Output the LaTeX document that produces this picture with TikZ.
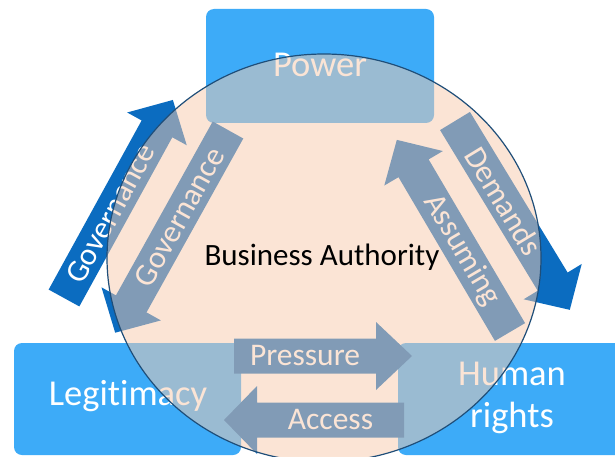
\documentclass[tikz,border=0pt]{standalone}
\usepackage{fontspec}
\setmainfont{Carlito}[Ligatures={NoCommon,NoContextual,NoRare}]
\usetikzlibrary{calc}
\definecolor{boxblue}{HTML}{3DABF8}
\definecolor{arrblue}{HTML}{0B6CC0}
\definecolor{peach}{HTML}{F8CBAD}
\definecolor{navy}{HTML}{1F4E79}
\tikzset{
  boxshape/.style={fill=boxblue, rounded corners=8pt},
  boxlabel/.style={text=white, font=\fontsize{36.5}{41}\selectfont, align=center, inner sep=0pt},
  arrtext/.style={text=white, font=\fontsize{31.5}{34}\selectfont, inner sep=0pt},
  arrfill/.style={fill=arrblue},
  bubble/.style={fill=peach, fill opacity=0.5, draw=navy, draw opacity=1, line width=1.2pt},
  centertext/.style={text=black, font=\fontsize{31}{35}\selectfont, inner sep=0pt}
}
\newcommand\BlkArrow[7]{%
  \begin{scope}[shift={(#2)}, rotate=#3]
    \fill[arrfill] (0,-17.5) -- (#4-#7,-17.5) -- (#4-#7,-34) -- (#4,0) -- (#4-#7,34) -- (#4-#7,17.5) -- (0,17.5) -- cycle;
    \node[arrtext, rotate=#5] (#1) at ({(#4-#7)/2},0) {#6};
  \end{scope}}
\begin{document}
\begin{tikzpicture}[x=1pt,y=1pt]
\useasboundingbox (0,0) rectangle (615,456);
\fill[white] (0,0) rectangle (615,456);
\clip (0,0) rectangle (615,456);
% boxes
\fill[boxshape] (206,333) rectangle (434,447);
\fill[boxshape] (14,1) rectangle (241,113);
\fill[boxshape] (398,1) rectangle (640,113);
\node[boxlabel, anchor=base] (power) at (320,379) {Power};
\node[boxlabel, anchor=base] (legit) at (128,51) {Legi\kern0pt timacy};
\node[boxlabel] (human) at (512,58) {Human\\[1pt]rights};
% arrows
\BlkArrow{govout}{64,158}{61.2}{226}{61.2}{Governance}{33}
\BlkArrow{govin}{228,326}{240.9}{232}{60.9}{Governance}{33}
\BlkArrow{dem}{455,335}{-58.7}{221}{-58.7}{Demands}{33}
\BlkArrow{ass}{510,124}{120.5}{223}{-59.5}{Assuming}{33}
\BlkArrow{pre}{234,100}{0}{178}{0}{Pressure}{36}
\BlkArrow{acc}{404,36}{180}{180}{0}{Access}{33}
% bubble
\path[bubble] (324,198) ellipse [x radius=217, y radius=204];
\node[centertext, anchor=base] (ba) at (322,191) {Business Authority};
\end{tikzpicture}
\end{document}
